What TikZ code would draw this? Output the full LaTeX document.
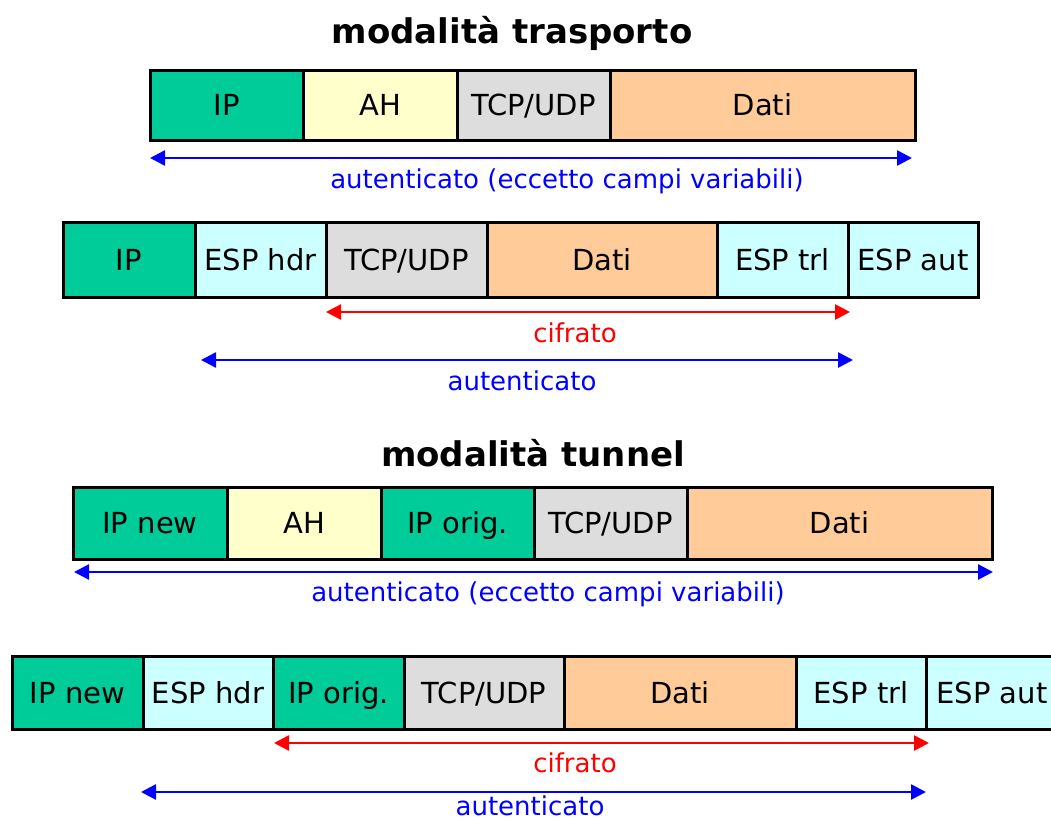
\documentclass[tikz,border=0pt]{standalone}
\usepackage{fontspec}
\setmainfont{DejaVu Sans}
\usetikzlibrary{arrows.meta}
\definecolor{ipc}{HTML}{00CC99}
\definecolor{ahc}{HTML}{FFFFCC}
\definecolor{tcpc}{HTML}{DDDDDD}
\definecolor{datc}{HTML}{FFCC99}
\definecolor{espc}{HTML}{CCFFFF}
\definecolor{bluec}{HTML}{0000FF}
\definecolor{redc}{HTML}{FF0000}
\tikzset{
  fld/.style={draw=black, line width=3pt, anchor=north west, inner sep=0pt, outer sep=0pt,
    font=\fontsize{29}{32}\selectfont, text=black, text height=21.2pt, text depth=0pt},
  ttl/.style={font=\fontsize{34}{40}\selectfont\bfseries},
  lab/.style={font=\fontsize{26}{30}\selectfont, anchor=base, inner sep=0pt},
  rng/.style={line width=2.6pt, {Triangle[length=15pt,width=15pt]}-{Triangle[length=15pt,width=15pt]}},
}
\begin{document}
\begin{tikzpicture}[x=1pt,y=-1pt]
\useasboundingbox (0,0) rectangle (1051,822);
% title
\node[ttl] (t1) at (512,33) {modalità trasporto};
% row 1
\node[fld, fill=ipc, minimum width=153, minimum height=70] (a1) at (150,70) {IP};
\node[fld, fill=ahc, minimum width=154, minimum height=70] (a2) at (303,70) {AH};
\node[fld, fill=tcpc, minimum width=153, minimum height=70] (a3) at (457,70) {TCP/UDP};
\node[fld, fill=datc, minimum width=305, minimum height=70] (a4) at (610,70) {Dati};
\coordinate (a1s) at (150,158);
\coordinate (a4s) at (912,158);
\draw[rng, bluec] (a1s) -- (a4s);
\node[lab, text=bluec] (al) at (567,188) {autenticato (eccetto campi variabili)};
% row 2
\node[fld, fill=ipc, minimum width=132, minimum height=75] (b1) at (63,222) {IP};
\node[fld, fill=espc, minimum width=131, minimum height=75] (b2) at (195,222) {ESP hdr};
\node[fld, fill=tcpc, minimum width=161, minimum height=75] (b3) at (326,222) {TCP/UDP};
\node[fld, fill=datc, minimum width=230, minimum height=75] (b4) at (487,222) {Dati};
\node[fld, fill=espc, minimum width=131, minimum height=75] (b5) at (717,222) {ESP trl};
\node[fld, fill=espc, minimum width=130, minimum height=75] (b6) at (848,222) {ESP aut};
\coordinate (bc1) at (326,312);
\coordinate (bc2) at (850,312);
\draw[rng, redc] (bc1) -- (bc2);
\node[lab, text=redc] (bcl) at (575,342) {cifrato};
\coordinate (ba1) at (201,360);
\coordinate (ba2) at (853,360);
\draw[rng, bluec] (ba1) -- (ba2);
\node[lab, text=bluec] (bal) at (522,390) {autenticato};
% title 2
\node[ttl] (t2) at (533,453) {modalità tunnel};
% row 3
\node[fld, fill=ipc, minimum width=154, minimum height=72] (c1) at (73,487) {IP new};
\node[fld, fill=ahc, minimum width=154, minimum height=72] (c2) at (227,487) {AH};
\node[fld, fill=ipc, minimum width=153, minimum height=72] (c3) at (381,487) {IP orig.};
\node[fld, fill=tcpc, minimum width=153, minimum height=72] (c4) at (534,487) {TCP/UDP};
\node[fld, fill=datc, minimum width=305, minimum height=72] (c5) at (687,487) {Dati};
\coordinate (ca1) at (74,572);
\coordinate (ca2) at (993,572);
\draw[rng, bluec] (ca1) -- (ca2);
\node[lab, text=bluec] (cal) at (548,601) {autenticato (eccetto campi variabili)};
% row 4
\node[fld, fill=ipc, minimum width=131, minimum height=73] (d1) at (12,656) {IP new};
\node[fld, fill=espc, minimum width=130, minimum height=73] (d2) at (143,656) {ESP hdr};
\node[fld, fill=ipc, minimum width=131, minimum height=73] (d3) at (273,656) {IP orig.};
\node[fld, fill=tcpc, minimum width=160, minimum height=73] (d4) at (404,656) {TCP/UDP};
\node[fld, fill=datc, minimum width=232, minimum height=73] (d5) at (564,656) {Dati};
\node[fld, fill=espc, minimum width=130, minimum height=73] (d6) at (796,656) {ESP trl};
\node[fld, fill=espc, minimum width=132, minimum height=73] (d7) at (926,656) {ESP aut};
\coordinate (dc1) at (274,743);
\coordinate (dc2) at (929,743);
\draw[rng, redc] (dc1) -- (dc2);
\node[lab, text=redc] (dcl) at (575,772) {cifrato};
\coordinate (da1) at (141,792);
\coordinate (da2) at (926,792);
\draw[rng, bluec] (da1) -- (da2);
\node[lab, text=bluec] (dal) at (530,815) {autenticato};
\end{tikzpicture}
\end{document}
